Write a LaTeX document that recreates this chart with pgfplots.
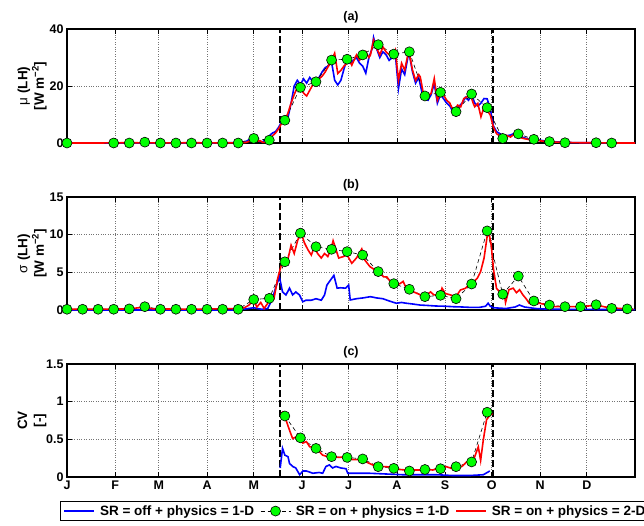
\documentclass[border=0pt]{standalone}
\usepackage{fontspec}
\setmainfont{Liberation Sans}
\usepackage{pgfplots}
\pgfplotsset{compat=1.18}

\definecolor{mblue}{rgb}{0,0,1}
\definecolor{mred}{rgb}{1,0,0}
\definecolor{mgreen}{rgb}{0,1,0}

\pgfplotsset{
  panel/.style={
    scale only axis, width=568pt, height=113pt,
    xmin=0, xmax=365,
    xtick={0,31,59,90,120,151,181,212,243,273,304,334},
    axis line style={line width=1.1pt},
    tick align=inside, major tick length=5pt,
    tick style={line width=0.8pt, black},
    grid=major, major grid style={dotted, line width=0.7pt, black!55},
    /pgf/number format/assume math mode=true,
    tick label style={font=\bfseries\fontsize{12.5}{14}\selectfont},
    ylabel style={font=\bfseries\fontsize{13.5}{16.5}\selectfont, align=center,
      at={(axis description cs:-0.0616,0.5)}, anchor=center},
    title style={font=\bfseries\fontsize{12.5}{14}\selectfont, yshift=-4pt},
    legend image code/.code={\draw[mark repeat=2,mark phase=2,##1]
      plot coordinates {(0pt,0pt) (15pt,0pt) (30pt,0pt)};},
  },
  sblue/.style={color=mblue, line width=1.6pt, no markers},
  sred/.style={color=mred, line width=1.6pt, no markers},
  sgreen/.style={color=black, line width=0.6pt, dash pattern=on 4pt off 3pt,
    mark=*, mark size=5pt, mark options={solid, fill=mgreen, draw=black, line width=0.6pt}},
  season/.style={black, line width=2pt, dash pattern=on 7pt off 3pt, forget plot},
}

\begin{document}
\begin{tikzpicture}
\useasboundingbox (0pt,0pt) rectangle (644pt,-525pt);

% ---------------- (a) mean latent heat flux ----------------
\begin{axis}[panel, at={(67pt,-143pt)}, anchor=south west, height=114pt,
  ymin=0, ymax=40, ytick={0,20,40}, xticklabels={},
  title={(a)}, ylabel={{\mdseries μ} (LH)\\{}[W m\textsuperscript{−2}]}]
\addplot[season] coordinates {(137,0) (137,40)};
\addplot[season] coordinates {(273.6,0) (273.6,40)};
\addplot[sblue] coordinates {
(0,0) (20,0) (40,0) (60,0) (80,0) (100,0) (110,0.2) (115,0.5) (118,1.5) (120,1.8)
(122,1) (124,0.5) (126,0.5) (128,1.5) (130,2.5) (132,3.5) (134,4) (136,5.5) (138,7.5)
(140,7) (142,9) (144,14) (146,20) (148,22) (150,20.5) (152,22.5) (154,21) (156,23)
(158,21.5) (160,22) (162,23) (164,25) (166,26.5) (168,27) (170,28.5) (172,22) (174,20.4)
(176,22) (178,26) (180,29.5) (182,28) (184,29) (186,30) (188,28) (190,27) (192,24.5)
(194,30) (196,33) (197,37) (199,33) (201,30) (203,32) (205,31) (207,29) (209,30)
(211,31) (213,19.1) (215,26) (217,24) (219,30) (220,31) (222,25) (224,21) (226,23)
(228,18) (230,15.5) (232,15) (234,17) (236,21) (238,14) (240,17) (242,15.5) (244,14)
(246,13) (248,11) (250,12) (252,13) (254,14) (256,16) (258,15) (260,17) (262,14)
(264,13) (266,14) (268,15.6) (270,15.5) (272,12) (274,6) (276,4) (279,3) (282,2.5)
(285,2.8) (288,3.5) (290,2.5) (294,1.8) (297,1.3) (301,1.1) (305,0.9) (310,0.5)
(315,0.4) (320,0.2) (330,0.1) (345,0.05) (365,0)};
\addplot[sgreen] coordinates {
(0,0) (30,0) (40,0) (50,0.3) (60,0) (70,0) (80,0) (90,0) (100,0) (110,0) (120,1.6)
(130,1.0) (140,8) (150,19.5) (160,21.5) (170,29.1) (180,29.4) (190,30.9) (200,34.5)
(210,31.2) (220,32.0) (230,16.5) (240,17.8) (250,11.0) (260,17.2) (270,12.4) (280,1.6)
(290,3.2) (300,1.3) (310,0.5) (320,0.1) (340,0.1) (350,0)};
\addplot[sred] coordinates {
(0,0) (20,0) (40,0.1) (60,0) (80,0.1) (100,0) (110,0.1) (115,0.2) (118,0.8) (120,1.2)
(122,0.6) (124,0.8) (126,0.2) (128,0.3) (130,1.2) (132,2.5) (134,3.5) (136,5) (138,7)
(140,8) (142,10.5) (144,14) (146,17) (148,19.5) (150,20) (152,17.5) (154,16.5) (156,18.5)
(158,20.5) (160,21.5) (162,22.5) (164,23.5) (166,25) (168,27) (170,29) (172,31.5)
(174,24.4) (176,25.5) (178,27) (180,28) (181,29.7) (183,27.3) (186,30.9) (188,29.1)
(190,30) (192,32) (194,30) (195,30.9) (197,36.1) (199,33.2) (201,30.9) (203,33.7)
(205,32) (207,31) (209,30.3) (211,32.6) (213,22) (215,28) (217,25.6) (219,30.9)
(220,31.5) (222,25.6) (224,22) (226,24) (227,23.2) (229,17.4) (231,16.2) (234,17.4)
(236,22.6) (238,15) (240,17.9) (242,16.8) (244,15) (246,14) (247,12.7) (249,11.5)
(251,13.3) (253,12.7) (255,15.6) (257,16.2) (259,17.4) (261,14) (262,12.7) (264,13.9)
(266,9.2) (268,12.7) (270,11.5) (272,9.8) (274,5.6) (276,3.3) (279,2.1) (282,2.7)
(285,2.1) (288,3.3) (290,2.1) (294,1.5) (297,1.2) (301,1.0) (305,0.7) (308,0.5)
(315,0.3) (320,0.2) (330,0.1) (340,0.1) (350,0) (365,0)};
\end{axis}

% ---------------- (b) standard deviation ----------------
\begin{axis}[panel, at={(67pt,-310pt)}, anchor=south west,
  ymin=0, ymax=15, ytick={0,5,10,15}, xticklabels={},
  title={(b)}, ylabel={{\mdseries σ} (LH)\\{}[W m\textsuperscript{−2}]}]
\addplot[season] coordinates {(137,0) (137,15)};
\addplot[season] coordinates {(273.6,0) (273.6,15)};
\addplot[sblue] coordinates {
(0,0) (110,0) (120,0.3) (125,0.1) (129,0.2) (132,1.5) (134,2.9) (136.5,4.4) (138.5,2.4)
(140.7,2.0) (143,2.9) (145,2.0) (147,2.4) (149.4,2.0) (151.5,1.1) (153.6,1.3) (157,1.3)
(160,1.5) (163.4,1.3) (165.5,2.0) (167,3.3) (169.4,4.0) (171.5,4.6) (173.6,2.9)
(175.7,2.95) (179,2.9) (181,3.3) (182,1.33) (186,1.5) (190,1.6) (195,1.77) (199,1.6)
(203,1.5) (207,1.2) (211.6,0.9) (215,1.0) (218,0.9) (222,0.8) (226.8,0.66) (232,0.6)
(237,0.53) (243,0.5) (248,0.44) (254,0.4) (259,0.35) (265,0.35) (269,0.5) (270.6,0.9)
(272,0.5) (274,0.3) (282,0.2) (288,0.4) (290.7,0.66) (294,0.4) (301,0.2) (310,0.1)
(365,0.05)};
\addplot[sgreen] coordinates {
(0,0.1) (10,0.1) (20,0.1) (30,0.1) (40,0.15) (50,0.44) (60,0.1) (70,0.1) (80,0.1)
(90,0.1) (100,0.1) (110,0.1) (120,1.4) (130,1.55) (140,6.4) (150,10.2) (160,8.4)
(170,8.06) (180,7.75) (190,7.3) (200,5.1) (210,3.5) (220,2.75) (230,1.77) (240,1.95)
(250,1.5) (260,3.45) (270,10.5) (280,2.1) (290,4.5) (300,1.2) (310,0.66) (320,0.44)
(330,0.44) (340,0.7) (350,0.22) (360,0.15)};
\addplot[sred] coordinates {
(0,0.1) (20,0.1) (40,0.15) (50,0.4) (55,0.15) (80,0.1) (110,0.2) (114,0.3) (117,0.66)
(120,1.3) (122,0.4) (124.5,1.0) (126.7,0.2) (129,0.9) (131,1.8) (133,1.5) (135.4,4.2)
(137.5,5.8) (139.6,6.2) (141.8,6.6) (144,8.6) (146,7.5) (148.3,9.3) (150.5,10.2)
(152.6,8.9) (154.8,8.0) (157,7.3) (159,8.4) (161,7.5) (163.4,6.9) (165.5,7.5)
(167.6,7.1) (169.8,8.2) (171,9.2) (174.6,6.9) (177.7,7.1) (180,7.3) (183,6.2) (186,6.9)
(189.4,8.1) (191.5,6.6) (194.7,5.75) (198,5.3) (201,4.9) (203.4,4.4) (205.5,4.4)
(207.7,3.8) (209.8,3.4) (212,3.4) (214,3.5) (216,3.8) (218.5,2.66) (220.6,2.7)
(222.8,2.4) (225,2.2) (227,2.0) (229,1.8) (231,2.0) (233.6,2.4) (235.8,2.0) (238,2.0)
(240,2.2) (241,2.9) (243,2.2) (246.5,2.0) (248.6,1.8) (250.7,2.0) (252.8,2.66) (256,2.88)
(259,3.5) (261.5,3.8) (263.6,4.2) (265.8,5.1) (268,6.9) (270,9.8) (271,10.4) (272.6,8.6)
(274,5.5) (276,2.88) (278,2.4) (280.7,2.6) (281.8,1.0) (284,2.7) (286.7,2.9) (288.8,2.3)
(290.8,2.7) (293,2.0) (295,1.5) (297,0.9) (300.3,0.7) (303.6,0.9) (307.8,0.7) (312,0.44)
(320.8,0.44) (331.5,0.44) (340,0.66) (347,0.35) (355.5,0.2) (364,0.1)};
\end{axis}

% ---------------- (c) coefficient of variation ----------------
\begin{axis}[panel, at={(67pt,-477pt)}, anchor=south west,
  ymin=0, ymax=1.5, ytick={0,0.5,1,1.5}, yticklabels={0,0.5,1,1.5},
  xticklabels={J,F,M,A,M,J,J,A,S,O,N,D},
  title={(c)}, ylabel={CV\\{}[-]},
  legend columns=3,
  legend style={at={(axis description cs:-0.0123,-0.212)}, anchor=north west,
    draw=black, line width=0.9pt,
    font=\bfseries\fontsize{13.5}{16}\selectfont,
    /tikz/every odd column/.append style={column sep=3pt},
    /tikz/every even column/.append style={column sep=4pt}}]
\addplot[season] coordinates {(137,0) (137,1.5)};
\addplot[season] coordinates {(273.6,0) (273.6,1.5)};
\addplot[sblue] coordinates {
(137,0.12) (138.5,0.38) (140,0.29) (142,0.27) (143,0.18) (145,0.14) (147,0.12)
(149.5,0.03) (151.6,0.08) (153.8,0.08) (158,0.05) (162,0.06) (164.3,0.05) (166.4,0.14)
(168.6,0.16) (170.7,0.12) (172.8,0.14) (176,0.12) (179.3,0.11) (180.4,0.05) (185.8,0.05)
(194,0.05) (205,0.04) (216,0.03) (226.5,0.03) (237.3,0.03) (248,0.02) (258.9,0.02)
(267.5,0.03) (271.7,0.08)};
\addlegendentry{SR = off + physics = 1-D}
\addplot[sgreen] coordinates {
(140,0.81) (150,0.52) (160,0.38) (170,0.27) (180,0.26) (190,0.24) (200,0.137)
(210,0.115) (220,0.08) (230,0.10) (240,0.11) (250,0.137) (260,0.2) (270,0.86)};
\addlegendentry{SR = on + physics = 1-D}
\addplot[sred] coordinates {
(137.5,0.84) (138.5,0.86) (141,0.74) (143,0.62) (145,0.51) (147,0.53) (149.5,0.49)
(151.6,0.45) (153.8,0.47) (156,0.40) (158,0.40) (160,0.36) (162,0.34) (164.3,0.29)
(167.5,0.27) (170.7,0.27) (175,0.26) (179.3,0.27) (183.6,0.23) (187.9,0.23) (192.2,0.2)
(196.5,0.16) (200.8,0.137) (205,0.137) (209.4,0.13) (213.7,0.1) (218,0.093) (222,0.093)
(226.5,0.093) (231,0.1) (235,0.093) (239.5,0.115) (243.8,0.137) (247,0.115) (250.4,0.16)
(253.6,0.137) (256.8,0.2) (260,0.18) (262,0.27) (264.3,0.40) (265.8,0.22) (267.5,0.49)
(269.6,0.76) (271.7,0.82) (273.4,0.84)};
\addlegendentry{SR = on + physics = 2-D}
\end{axis}
\end{tikzpicture}
\end{document}
